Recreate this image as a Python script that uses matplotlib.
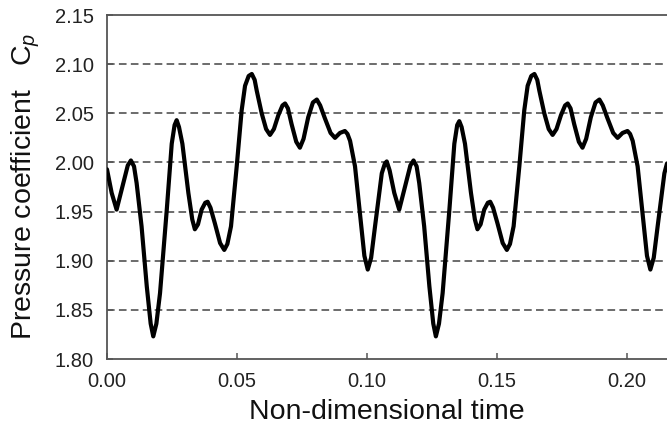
import matplotlib
matplotlib.use('Agg')
import matplotlib.pyplot as plt

plt.rcParams['font.family'] = ['Liberation Sans', 'DejaVu Sans']
plt.rcParams['mathtext.fontset'] = 'custom'
plt.rcParams['mathtext.rm'] = 'Liberation Sans'
plt.rcParams['mathtext.it'] = 'Liberation Sans:italic'

# values (two periods)
t = [0.0000, 0.0018, 0.0037, 0.0063, 0.0080, 0.0092, 0.0104, 0.0114, 0.0133, 0.0153,
     0.0168, 0.0178, 0.0190, 0.0204, 0.0230, 0.0249, 0.0260, 0.0268, 0.0277, 0.0290,
     0.0313, 0.0328, 0.0338, 0.0350, 0.0364, 0.0378, 0.0387, 0.0398, 0.0415, 0.0435,
     0.0451, 0.0463, 0.0477, 0.0499, 0.0518, 0.0531, 0.0545, 0.0557, 0.0568, 0.0576,
     0.0595, 0.0612, 0.0627, 0.0642, 0.0659, 0.0675, 0.0685, 0.0696, 0.0710, 0.0728,
     0.0742, 0.0756, 0.0774, 0.0792, 0.0807, 0.0820, 0.0838, 0.0860, 0.0877, 0.0896,
     0.0915, 0.0925, 0.0935, 0.0954, 0.0973, 0.0990, 0.1003, 0.1016, 0.1031, 0.1057,
     0.1069, 0.1076,
     0.1087, 0.1105, 0.1124, 0.1150, 0.1167, 0.1179, 0.1191, 0.1201, 0.1220, 0.1240,
     0.1255, 0.1265, 0.1277, 0.1291, 0.1317, 0.1336, 0.1347, 0.1355, 0.1364, 0.1377,
     0.1400, 0.1415, 0.1425, 0.1437, 0.1451, 0.1465, 0.1474, 0.1485, 0.1502, 0.1522,
     0.1538, 0.1550, 0.1564, 0.1586, 0.1605, 0.1618, 0.1632, 0.1644, 0.1655, 0.1663,
     0.1682, 0.1699, 0.1714, 0.1729, 0.1746, 0.1762, 0.1772, 0.1783, 0.1797, 0.1815,
     0.1829, 0.1843, 0.1861, 0.1879, 0.1894, 0.1907, 0.1925, 0.1947, 0.1964, 0.1983,
     0.2002, 0.2012, 0.2022, 0.2041, 0.2060, 0.2077, 0.2090, 0.2103, 0.2118, 0.2144,
     0.2154]
cp = [1.993, 1.969, 1.952, 1.979, 1.997, 2.002, 1.996, 1.979, 1.935, 1.874,
      1.836, 1.823, 1.836, 1.867, 1.952, 2.019, 2.038, 2.043, 2.036, 2.019,
      1.969, 1.942, 1.932, 1.937, 1.952, 1.959, 1.960, 1.954, 1.938, 1.918,
      1.911, 1.917, 1.935, 1.996, 2.053, 2.078, 2.088, 2.090, 2.084, 2.073,
      2.050, 2.034, 2.028, 2.034, 2.048, 2.058, 2.060, 2.055, 2.039, 2.021,
      2.015, 2.024, 2.046, 2.061, 2.064, 2.058, 2.045, 2.030, 2.025, 2.030,
      2.032, 2.029, 2.022, 1.996, 1.948, 1.905, 1.891, 1.903, 1.935, 1.989,
      1.999, 2.001,
      1.992, 1.969, 1.952, 1.979, 1.997, 2.002, 1.996, 1.979, 1.935, 1.874,
      1.836, 1.823, 1.836, 1.867, 1.952, 2.019, 2.038, 2.042, 2.036, 2.019,
      1.969, 1.942, 1.932, 1.937, 1.952, 1.959, 1.960, 1.954, 1.938, 1.918,
      1.911, 1.917, 1.935, 1.996, 2.053, 2.078, 2.088, 2.090, 2.084, 2.073,
      2.050, 2.034, 2.028, 2.034, 2.048, 2.058, 2.060, 2.055, 2.039, 2.021,
      2.015, 2.024, 2.046, 2.061, 2.064, 2.058, 2.045, 2.030, 2.025, 2.030,
      2.032, 2.029, 2.022, 1.996, 1.948, 1.905, 1.891, 1.903, 1.935, 1.989,
      1.999]

xticks = [0.00, 0.05, 0.10, 0.15, 0.20]
yticks = [1.80, 1.85, 1.90, 1.95, 2.00, 2.05, 2.10, 2.15]
grid_y = [1.85, 1.90, 1.95, 2.00, 2.05, 2.10]

fig = plt.figure(figsize=(6.67, 4.28), dpi=100)
ax = fig.add_axes([0.1604, 0.1612, 0.8396, 0.8037])

for g in grid_y:
    ax.axhline(g, color='#444444', lw=1.1, ls=(0, (5, 2.8)), zorder=1)

ax.plot(t, cp, color='black', lw=3.0, solid_capstyle='round', solid_joinstyle='round', zorder=3)

ax.set_xlim(0, 0.2154)
ax.set_ylim(1.80, 2.15)
ax.set_xticks(xticks)
ax.set_xticklabels(['%.2f' % v for v in xticks])
ax.set_yticks(yticks)
ax.set_yticklabels(['%.2f' % v for v in yticks])

for s in ['left', 'bottom', 'top']:
    ax.spines[s].set_color('#555555')
    ax.spines[s].set_linewidth(1.3)
ax.spines['right'].set_visible(False)

ax.tick_params(axis='both', direction='in', length=4, width=1.1, color='#555555',
               labelsize=14.5, labelcolor='#222222')
ax.tick_params(axis='x', pad=9.5)
ax.tick_params(axis='y', pad=9.5)

ax.set_xlabel('Non-dimensional time', fontsize=20.5, color='#111111')
ax.xaxis.set_label_coords(0.5, -0.116)
ax.set_ylabel(r'Pressure coefficient   $\mathrm{C}_{p}$', fontsize=20.5, color='#111111')
ax.yaxis.set_label_coords(-0.116, 0.503)

fig.savefig('out.png', dpi=100)
